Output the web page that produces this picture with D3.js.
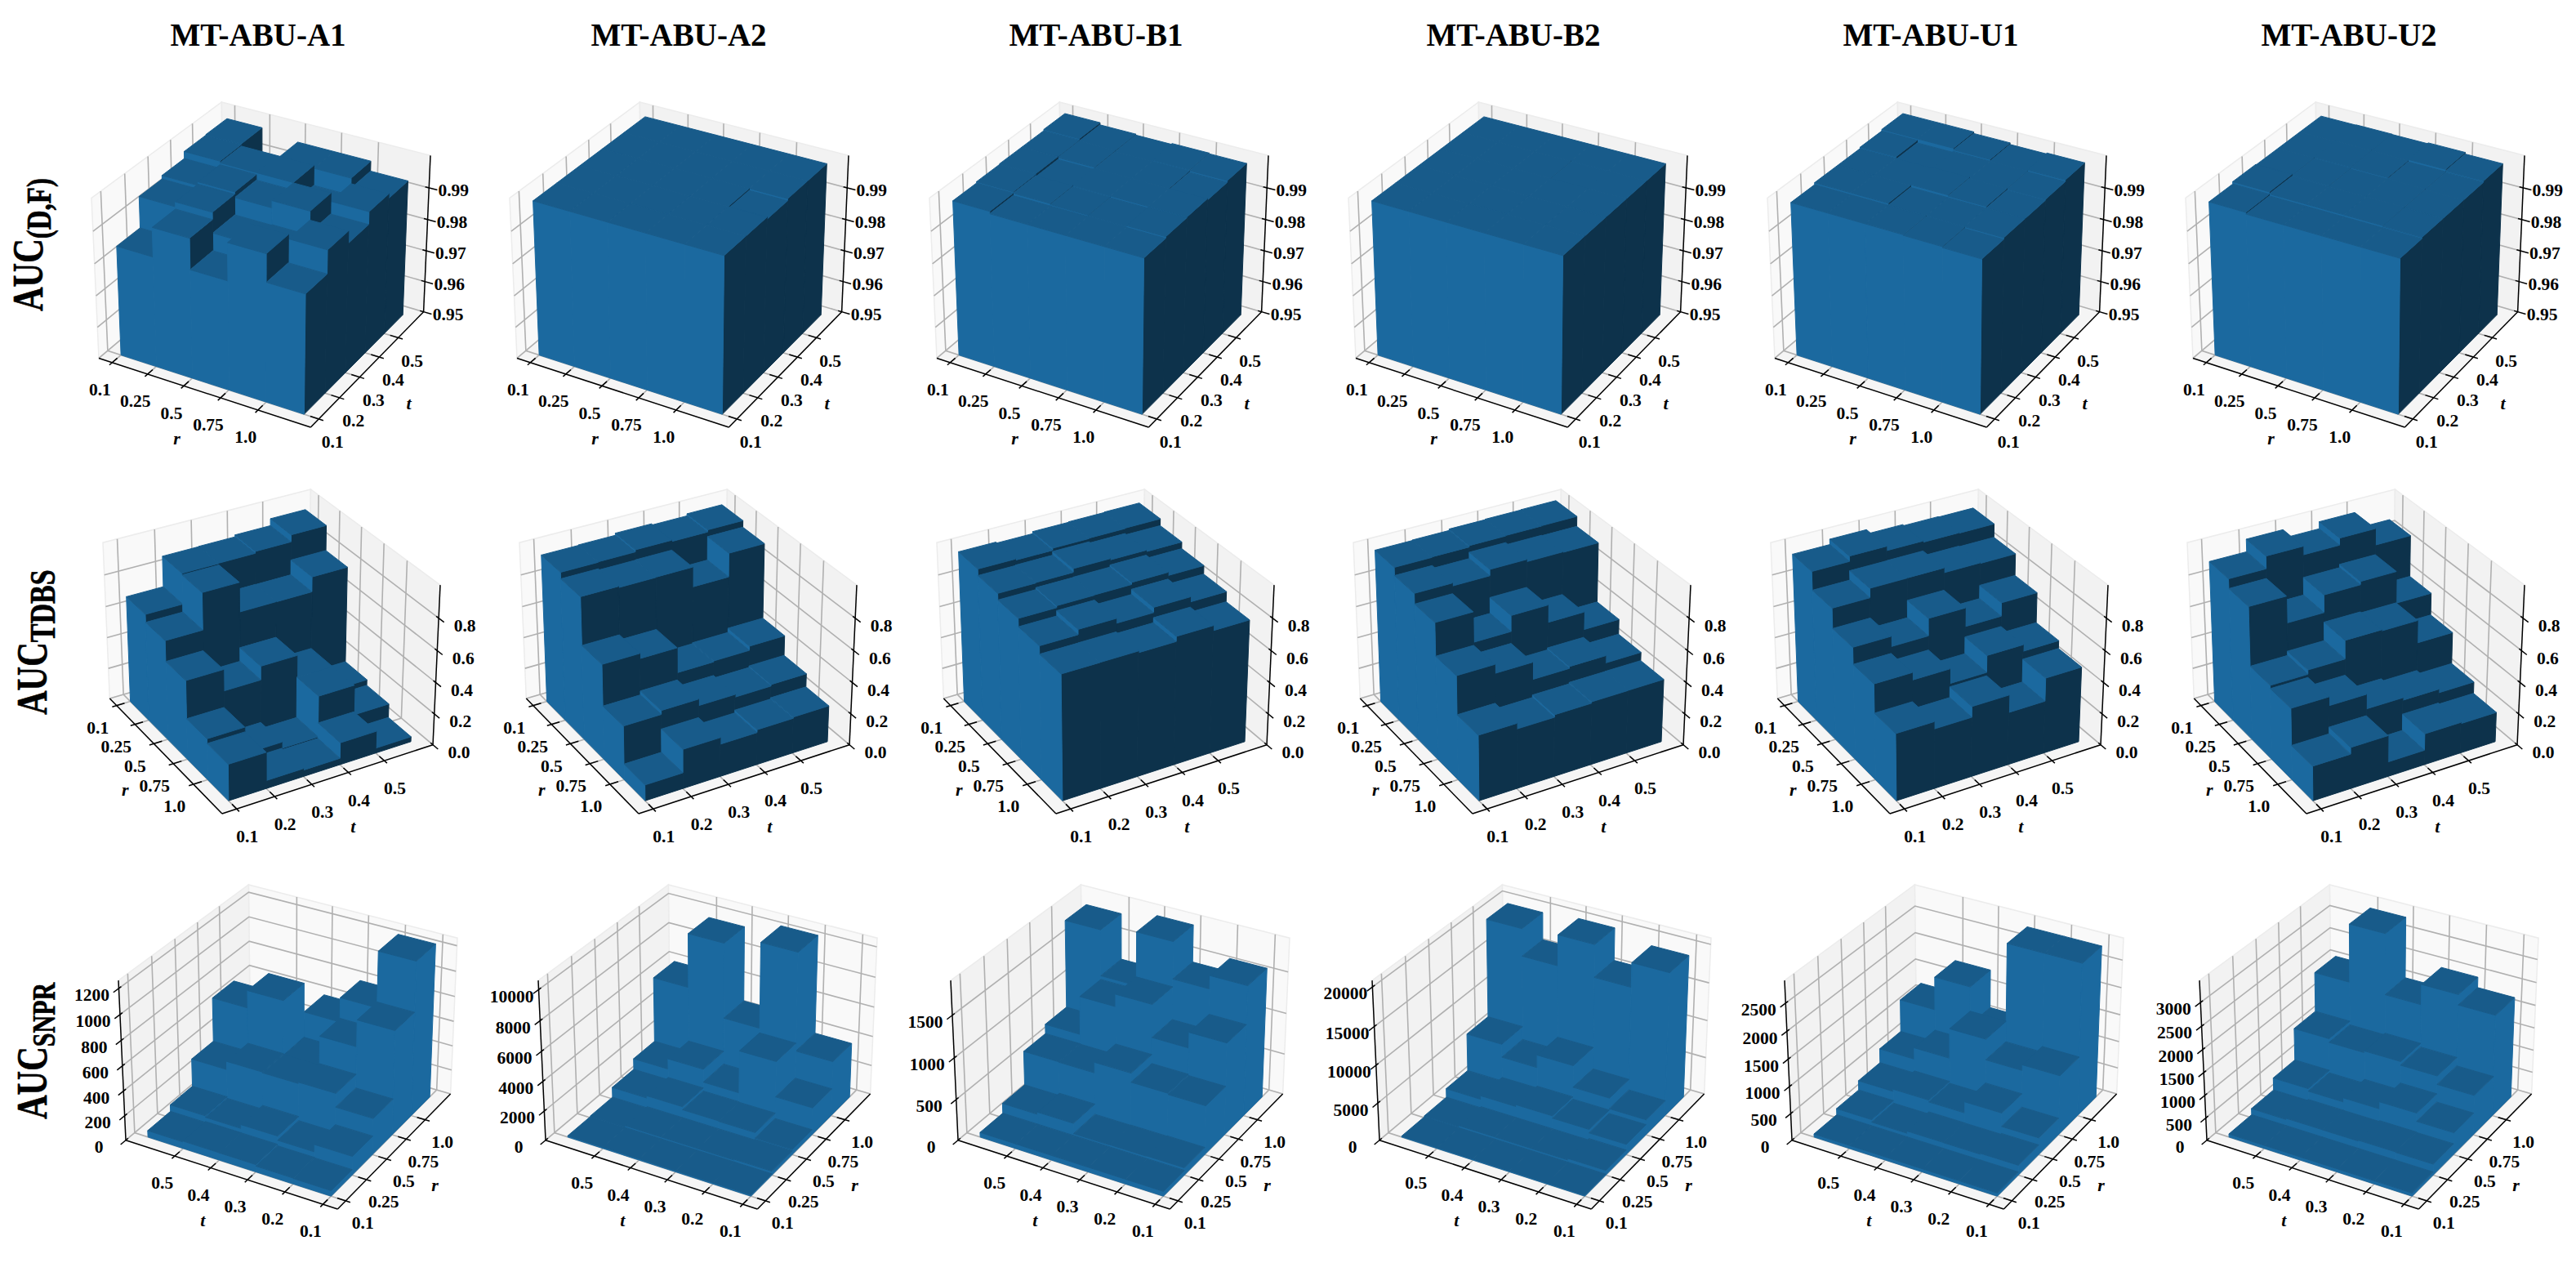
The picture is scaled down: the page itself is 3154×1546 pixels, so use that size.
<!DOCTYPE html>
<html>
<head>
<meta charset="utf-8">
<script src="https://cdnjs.cloudflare.com/ajax/libs/d3/7.8.5/d3.min.js"></script>
<style>
  html, body { margin: 0; padding: 0; background: #fff; }
  text { font-family: "Liberation Serif", serif; font-weight: bold; fill: #000; }
</style>
</head>
<body>
<svg id="chart"></svg>
<script>
var datasets = ["MT-ABU-A1", "MT-ABU-A2", "MT-ABU-B1", "MT-ABU-B2", "MT-ABU-U1", "MT-ABU-U2"];
var rLabels = ["0.1", "0.25", "0.5", "0.75", "1.0"];
var tLabels = ["0.1", "0.2", "0.3", "0.4", "0.5"];

// every matrix: rows are r (0.1 .. 1.0), columns are t (0.1 .. 0.5)
var dfA1 = [[.9845,.9942,.9953,.9975,.9977],[.9935,.9957,.9964,.997,.9898],[.984,.9894,.9947,.997,.9961],[.9955,.9896,.9969,.9908,.9961],[.987,.9942,.9905,.9944,.993]];
var dfA2 = [[.9983,.9983,.9983,.9983,.9983],[.9983,.9983,.9983,.9983,.9983],[.9983,.9983,.9983,.9983,.9983],[.9983,.9983,.9983,.9983,.9983],[.9983,.9983,.9977,.9983,.9983]];
var dfB1 = [[.9983,.9987,.9989,.9989,.9993],[.9976,.9983,.998,.9986,.9986],[.9976,.998,.9983,.9983,.9983],[.9976,.9978,.9983,.9983,.9986],[.9976,.9981,.9983,.9979,.9984]];
var dfB2 = [[.9983,.9983,.9983,.9983,.9983],[.9983,.9983,.9983,.9983,.9983],[.9983,.9983,.9983,.9983,.9983],[.9983,.9983,.9983,.9981,.9983],[.9983,.9983,.9983,.9983,.9983]];
var dfU1 = [[.9978,.9984,.9984,.9988,.9993],[.9978,.9984,.9984,.998,.9993],[.9978,.9978,.9986,.9983,.9988],[.9976,.9978,.9983,.9983,.9983],[.9973,.9978,.9978,.9981,.9986]];
var dfU2 = [[.998,.9987,.9985,.9985,.9985],[.9975,.9981,.9983,.9986,.9986],[.9975,.9981,.9981,.9985,.9985],[.9975,.9981,.9981,.9981,.9988],[.9975,.9979,.9979,.9979,.9983]];

var tdbsA1 = [[.68,.872,.874,.886,.93],[.63,.862,.678,.677,.771],[.50,.365,.452,.313,.158],[.26,.091,.051,.313,.121],[.23,.051,.041,.141,.032]];
var tdbsA2 = [[.94,.943,.956,.948,.961],[.90,.892,.894,.771,.919],[.60,.568,.411,.417,.444],[.34,.365,.324,.307,.317],[.10,.248,.206,.224,.232]];
var tdbsB1 = [[.96,.953,.966,.969,.972],[.92,.923,.946,.938,.929],[.88,.892,.894,.907,.887],[.83,.862,.833,.865,.834],[.78,.781,.771,.802,.771]];
var tdbsB2 = [[.97,.973,.982,.985,.987],[.92,.902,.941,.927,.924],[.855,.669,.768,.66,.549],[.65,.595,.488,.50,.454],[.41,.375,.391,.40,.401]];
var tdbsU1 = [[.945,.978,.951,.943,.94],[.83,.888,.889,.859,.855],[.705,.642,.75,.634,.718],[.60,.554,.463,.569,.528],[.42,.375,.442,.333,.478]];
var tdbsU2 = [[.90,.978,.925,.969,.866],[.84,.674,.784,.805,.605],[.47,.497,.614,.607,.465],[.45,.395,.303,.287,.264],[.218,.26,.093,.198,.19]];

var snprA1 = [[44,47,59,60,53],[151,92,126,95,107],[293,404,393,399,332],[837,625,387,827,687],[1235,791,595,345,392]];
var snprA2 = [[85,85,85,85,85],[265,212,212,212,127],[352,727,759,971,815],[1854,4256,1379,2275,1557],[3721,10300,4571,9615,5990]];
var snprB1 = [[57,57,57,57,57],[89,84,80,207,179],[595,610,720,591,596],[1115,927,1323,1174,711],[1576,1417,1860,1219,1772]];
var snprB2 = [[125,125,125,125,125],[625,416,416,416,250],[1388,1856,2165,1911,1425],[2037,3481,6399,4700,6467],[18929,15741,20000,15956,19570]];
var snprU1 = [[58,58,58,58,58],[182,165,168,127,174],[313,564,356,391,350],[1103,998,1381,831,616],[2800,2800,1125,1832,1221]];
var snprU2 = [[69,69,69,69,69],[242,252,232,235,208],[489,673,515,423,482],[884,1073,1155,1116,1199],[2233,2461,2017,3350,2074]];

var dfTicks = ["0.95", "0.96", "0.97", "0.98", "0.99"];
var tdbsTicks = ["0.0", "0.2", "0.4", "0.6", "0.8"];
var snprTicks = [
  ["0", "200", "400", "600", "800", "1000", "1200"],
  ["0", "2000", "4000", "6000", "8000", "10000"],
  ["0", "500", "1000", "1500"],
  ["0", "5000", "10000", "15000", "20000"],
  ["0", "500", "1000", "1500", "2000", "2500"],
  ["0", "500", "1000", "1500", "2000", "2500", "3000"]
];
var snprTop = [1260, 10580, 1900, 20817, 2895, 3459];

var values = [
  [dfA1, dfA2, dfB1, dfB2, dfU1, dfU2],
  [tdbsA1, tdbsA2, tdbsB1, tdbsB2, tdbsU1, tdbsU2],
  [snprA1, snprA2, snprB1, snprB2, snprU1, snprU2]
];

// layout of each row: camera, where the pane box lands, and label offsets
var rows = [
  { azim: -60, top: 125, bottom: 523, width: 415,
    lefts: [112, 624, 1138, 1651, 2164, 2676],
    rOff: [-15, 33], tOff: [17, 28], zOff: [30, 3], rName: [-31, 57], tName: [48, 44] },
  { azim: -30, top: 599, bottom: 996, width: 413,
    lefts: [126, 636, 1147, 1657, 2168, 2678],
    rOff: [-23, 27], tOff: [13, 34], zOff: [32, 9], rName: [-47, 44], tName: [28, 59] },
  { azim: -150, top: 1083, bottom: 1480, width: 415,
    lefts: [145, 659, 1164, 1680, 2185, 2693],
    rOff: [21, 27], tOff: [-15, 33], zOff: [-33, 8], rName: [47, 44], tName: [-32, 57] }
];

var ELEV = 30, DIST = 10, PAD = 0.38;
var BOX_XY = 1.143, BOX_Z = 0.857;

var base = d3.rgb("#1f77b4");
function shade(k) { return d3.rgb(base.r * k, base.g * k, base.b * k).formatHex(); }
var topFill = shade(0.767), lightFill = shade(0.883), darkFill = shade(0.417);

var svg = d3.select("#chart").attr("width", 3154).attr("height", 1546);
var outline = d3.line().curve(d3.curveLinearClosed);
var polyline = d3.line();

function makeCamera(azim) {
  var a = azim * Math.PI / 180, e = ELEV * Math.PI / 180;
  var w = [Math.cos(e) * Math.cos(a), Math.cos(e) * Math.sin(a), Math.sin(e)];
  var u = [-Math.sin(a), Math.cos(a), 0];
  var v = [w[1] * u[2] - w[2] * u[1], w[2] * u[0] - w[0] * u[2], w[0] * u[1] - w[1] * u[0]];
  var c = [BOX_XY / 2, BOX_XY / 2, BOX_Z / 2];
  var eye = [c[0] + DIST * w[0], c[1] + DIST * w[1], c[2] + DIST * w[2]];
  return function(p) {
    var d = [p[0] - eye[0], p[1] - eye[1], p[2] - eye[2]];
    var depth = -(w[0] * d[0] + w[1] * d[1] + w[2] * d[2]);
    return [(u[0] * d[0] + u[1] * d[1]) / depth,
            (v[0] * d[0] + v[1] * d[1] + v[2] * d[2]) / depth,
            depth];
  };
}

function drawPanel(rowIndex, colIndex, matrix, zTicks, zMin, zMax) {
  var row = rows[rowIndex];
  var left = row.lefts[colIndex];
  var camera = makeCamera(row.azim);
  var xyWorld = d3.scaleLinear().domain([-PAD, 5 + PAD]).range([0, BOX_XY]);
  var zWorld = d3.scaleLinear().domain([zMin, zMax]).range([0, BOX_Z]);
  var lo = -PAD, hi = 5 + PAD;

  function raw(x, y, z) { return camera([xyWorld(x), xyWorld(y), zWorld(z)]); }

  var corners = [];
  [lo, hi].forEach(function(x) { [lo, hi].forEach(function(y) { [zMin, zMax].forEach(function(z) {
    corners.push(raw(x, y, z));
  }); }); });
  var px = d3.scaleLinear().domain(d3.extent(corners, function(c) { return c[0]; })).range([left, left + row.width]);
  var py = d3.scaleLinear().domain(d3.extent(corners, function(c) { return c[1]; })).range([row.bottom, row.top]);
  function at(x, y, z) { var r = raw(x, y, z); return [px(r[0]), py(r[1])]; }

  // which walls are behind the bars, which edges hold the axes
  var flipped = row.azim === -150;
  var backX = flipped ? hi : lo;
  var frontX = flipped ? lo : hi;
  var backY = hi, frontY = lo;
  var xOut = flipped ? -1 : 1;

  var g = svg.append("g");

  // panes
  var panes = [
    { fill: "#f9f9f9", pts: [at(backX, lo, zMin), at(backX, hi, zMin), at(backX, hi, zMax), at(backX, lo, zMax)] },
    { fill: "#f2f2f2", pts: [at(lo, backY, zMin), at(hi, backY, zMin), at(hi, backY, zMax), at(lo, backY, zMax)] },
    { fill: "#f5f5f5", pts: [at(lo, lo, zMin), at(hi, lo, zMin), at(hi, hi, zMin), at(lo, hi, zMin)] }
  ];
  g.selectAll("path.pane").data(panes).enter().append("path")
    .attr("class", "pane")
    .attr("d", function(d) { return outline(d.pts); })
    .attr("fill", function(d) { return d.fill; })
    .attr("stroke", "#ececec").attr("stroke-width", 1.5);

  // grid lines
  var zValues = zTicks.map(function(s) { return +s; });
  var gridLines = [];
  d3.range(5).forEach(function(k) {
    gridLines.push([at(k, frontY, zMin), at(k, backY, zMin), at(k, backY, zMax)]);
    gridLines.push([at(frontX, k, zMin), at(backX, k, zMin), at(backX, k, zMax)]);
  });
  zValues.forEach(function(z) {
    gridLines.push([at(frontX, backY, z), at(backX, backY, z), at(backX, frontY, z)]);
  });
  g.selectAll("path.grid").data(gridLines).enter().append("path")
    .attr("class", "grid")
    .attr("d", function(d) { return polyline(d); })
    .attr("fill", "none").attr("stroke", "#b0b0b0").attr("stroke-width", 1.6);

  // axis lines and ticks
  var zAxisX = frontX, zAxisY = backY;
  var axisLines = [
    [at(lo, frontY, zMin), at(hi, frontY, zMin)],
    [at(frontX, lo, zMin), at(frontX, hi, zMin)],
    [at(zAxisX, zAxisY, zMin), at(zAxisX, zAxisY, zMax)]
  ];
  var outDir = frontX === hi ? 1 : -1;
  d3.range(5).forEach(function(k) {
    axisLines.push([at(k, frontY + 0.22, zMin), at(k, frontY - 0.12, zMin)]);
    axisLines.push([at(frontX - outDir * 0.22, k, zMin), at(frontX + outDir * 0.12, k, zMin)]);
  });
  zValues.forEach(function(z) {
    axisLines.push([at(zAxisX - xOut * 0.1, zAxisY, z), at(zAxisX + xOut * 0.22, zAxisY, z)]);
  });
  g.selectAll("path.axis").data(axisLines).enter().append("path")
    .attr("class", "axis")
    .attr("d", function(d) { return polyline(d); })
    .attr("fill", "none").attr("stroke", "#000").attr("stroke-width", 1.5);

  // bars, far ones first; side faces only from the neighbour's height up
  var bars = [];
  matrix.forEach(function(rowValues, i) {
    rowValues.forEach(function(value, j) {
      bars.push({ i: i, j: j, value: value, depth: raw(i + 0.5, j + 0.5, zMin)[2] });
    });
  });
  bars.sort(function(a, b) { return b.depth - a.depth; });

  var faces = [];
  bars.forEach(function(b) {
    var x0 = b.i, x1 = b.i + 1, y0 = b.j, y1 = b.j + 1, h = b.value;
    var xFace = flipped ? x0 : x1;
    var xNext = matrix[flipped ? b.i - 1 : b.i + 1];
    var xFloor = xNext ? xNext[b.j] : zMin;
    var yFloor = b.j > 0 ? matrix[b.i][b.j - 1] : zMin;
    if (xFloor < h) {
      faces.push({ fill: flipped ? lightFill : darkFill,
        pts: [at(xFace, y0, xFloor), at(xFace, y1, xFloor), at(xFace, y1, h), at(xFace, y0, h)] });
    }
    if (yFloor < h) {
      faces.push({ fill: lightFill,
        pts: [at(x0, y0, yFloor), at(x1, y0, yFloor), at(x1, y0, h), at(x0, y0, h)] });
    }
    faces.push({ fill: topFill,
      pts: [at(x0, y0, h), at(x1, y0, h), at(x1, y1, h), at(x0, y1, h)] });
  });
  g.selectAll("path.face").data(faces).enter().append("path")
    .attr("class", "face")
    .attr("d", function(d) { return outline(d.pts); })
    .attr("fill", function(d) { return d.fill; })
    .attr("stroke", function(d) { return d.fill; })
    .attr("stroke-width", 1)
    .attr("stroke-linejoin", "round");

  // labels
  var labels = [];
  rLabels.forEach(function(s, k) {
    var p = at(k, frontY, zMin);
    labels.push({ s: s, x: p[0] + row.rOff[0], y: p[1] + row.rOff[1] });
  });
  tLabels.forEach(function(s, k) {
    var p = at(frontX, k, zMin);
    labels.push({ s: s, x: p[0] + row.tOff[0], y: p[1] + row.tOff[1] });
  });
  zTicks.forEach(function(s, k) {
    var p = at(zAxisX, zAxisY, zValues[k]);
    labels.push({ s: s, x: p[0] + row.zOff[0], y: p[1] + row.zOff[1] });
  });
  g.selectAll("text.tick").data(labels).enter().append("text")
    .attr("class", "tick")
    .attr("x", function(d) { return d.x; })
    .attr("y", function(d) { return d.y; })
    .attr("dy", "0.34em")
    .attr("text-anchor", "middle")
    .attr("font-size", 21.5)
    .text(function(d) { return d.s; });

  var rMid = at(2.5, frontY, zMin), tMid = at(frontX, 2.5, zMin);
  var names = [
    { s: "r", x: rMid[0] + row.rName[0], y: rMid[1] + row.rName[1] },
    { s: "t", x: tMid[0] + row.tName[0], y: tMid[1] + row.tName[1] }
  ];
  g.selectAll("text.name").data(names).enter().append("text")
    .attr("class", "name")
    .attr("x", function(d) { return d.x; })
    .attr("y", function(d) { return d.y; })
    .attr("dy", "0.34em")
    .attr("text-anchor", "middle")
    .attr("font-size", 22)
    .attr("font-style", "italic")
    .text(function(d) { return d.s; });
}

values.forEach(function(rowMatrices, r) {
  rowMatrices.forEach(function(matrix, c) {
    if (r === 0) drawPanel(r, c, matrix, dfTicks, 0.95, 1.0);
    if (r === 1) drawPanel(r, c, matrix, tdbsTicks, 0, 1.0);
    if (r === 2) drawPanel(r, c, matrix, snprTicks[c], 0, snprTop[c]);
  });
});

// column titles
var titleCentres = [316, 831, 1342, 1853, 2364, 2876];
svg.selectAll("text.title").data(datasets).enter().append("text")
  .attr("class", "title")
  .attr("x", function(d, i) { return titleCentres[i]; })
  .attr("y", 56)
  .attr("text-anchor", "middle")
  .attr("font-size", 39)
  .text(function(d) { return d; });

// row names
var rowNames = [
  { sub: "(D,F)", x: 52, y: 381, subSize: 33 },
  { sub: "TDBS", x: 57, y: 875, subSize: 34 },
  { sub: "SNPR", x: 57, y: 1370, subSize: 30 }
];
rowNames.forEach(function(d) {
  var t = svg.append("text")
    .attr("transform", "translate(" + d.x + "," + d.y + ") rotate(-90) scale(1,1.3)")
    .attr("font-size", 41)
    .attr("stroke", "#000").attr("stroke-width", 0.5);
  t.append("tspan").text("AUC");
  t.append("tspan").attr("font-size", d.subSize).attr("dy", 8).text(d.sub);
});
</script>
</body>
</html>
